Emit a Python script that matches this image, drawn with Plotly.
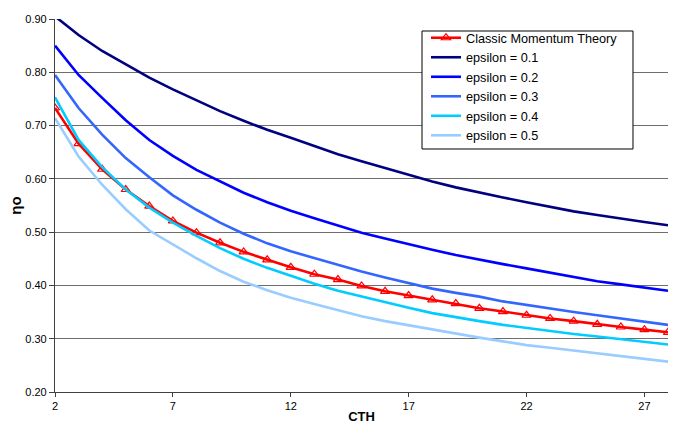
import plotly.graph_objects as go

cth = list(range(2, 29))

classic = [0.733, 0.666, 0.618, 0.580, 0.549, 0.521, 0.499, 0.480, 0.463, 0.448,
           0.434, 0.421, 0.411, 0.399, 0.389, 0.381, 0.373, 0.366, 0.357, 0.351,
           0.344, 0.338, 0.333, 0.327, 0.322, 0.317, 0.312]
eps01 = [0.905, 0.870, 0.840, 0.815, 0.790, 0.768, 0.747, 0.727, 0.709, 0.692,
         0.677, 0.662, 0.646, 0.633, 0.620, 0.607, 0.595, 0.584, 0.574, 0.565,
         0.556, 0.547, 0.539, 0.532, 0.525, 0.519, 0.513]
eps02 = [0.850, 0.795, 0.752, 0.710, 0.673, 0.643, 0.617, 0.595, 0.574, 0.556,
         0.540, 0.526, 0.512, 0.499, 0.488, 0.477, 0.467, 0.457, 0.448, 0.440,
         0.432, 0.424, 0.415, 0.408, 0.402, 0.396, 0.390]
eps03 = [0.795, 0.733, 0.683, 0.639, 0.603, 0.569, 0.542, 0.518, 0.497, 0.479,
         0.464, 0.451, 0.438, 0.426, 0.415, 0.404, 0.394, 0.386, 0.379, 0.370,
         0.363, 0.356, 0.350, 0.344, 0.338, 0.331, 0.326]
eps04 = [0.753, 0.673, 0.622, 0.580, 0.546, 0.518, 0.493, 0.470, 0.450, 0.433,
         0.418, 0.403, 0.390, 0.379, 0.368, 0.358, 0.348, 0.340, 0.333, 0.326,
         0.320, 0.314, 0.309, 0.304, 0.299, 0.294, 0.289]
eps05 = [0.714, 0.642, 0.589, 0.543, 0.503, 0.477, 0.451, 0.427, 0.407, 0.391,
         0.377, 0.365, 0.353, 0.342, 0.333, 0.325, 0.318, 0.310, 0.302, 0.295,
         0.288, 0.283, 0.278, 0.272, 0.267, 0.262, 0.257]

x_ticks = [2, 7, 12, 17, 22, 27]
y_ticks = [0.2, 0.3, 0.4, 0.5, 0.6, 0.7, 0.8, 0.9]

FONT = "Liberation Sans, Arial, sans-serif"

fig = go.Figure()
fig.add_trace(go.Scatter(x=cth, y=classic, name="Classic Momentum Theory",
                         mode="lines+markers",
                         line=dict(color="#FF0000", width=2.6),
                         marker=dict(symbol="triangle-up-open", size=8, color="#FF0000",
                                     line=dict(width=1.2))))
series = [("epsilon = 0.1", eps01, "#000080"),
          ("epsilon = 0.2", eps02, "#0000FF"),
          ("epsilon = 0.3", eps03, "#3366FF"),
          ("epsilon = 0.4", eps04, "#00CCFF"),
          ("epsilon = 0.5", eps05, "#99CCFF")]
for name, vals, col in series:
    fig.add_trace(go.Scatter(x=cth, y=vals, name=name, mode="lines",
                             line=dict(color=col, width=2.6)))

# legend frame drawn as a paper-referenced box behind the (transparent) legend
fig.add_shape(type="rect", xref="paper", yref="paper",
              x0=0.5987, x1=0.9429, y0=0.6515, y1=0.9678,
              line=dict(color="black", width=1), fillcolor="white", layer="above")

fig.update_layout(
    width=679, height=437,
    margin=dict(l=55, r=11, t=19, b=45),
    plot_bgcolor="white", paper_bgcolor="white",
    font=dict(family=FONT, size=11, color="black"),
    legend=dict(x=0.6052, y=0.9893, xanchor="left", yanchor="top",
                bgcolor="rgba(0,0,0,0)", borderwidth=0,
                font=dict(family=FONT, size=12.7, color="black"),
                tracegroupgap=0, itemwidth=30),
    xaxis=dict(range=[2, 28], tickvals=x_ticks, ticktext=[str(v) for v in x_ticks],
               showgrid=False, zeroline=False, automargin=False,
               showline=True, linecolor="#404040", linewidth=1.2,
               ticks="outside", ticklen=4, tickcolor="#404040",
               tickfont=dict(size=11),
               title=dict(text="<b>CTH</b>", font=dict(size=13), standoff=0)),
    yaxis=dict(range=[0.2, 0.9], tickvals=y_ticks,
               ticktext=[f"{v:.2f}" for v in y_ticks],
               showgrid=True, gridcolor="#6e6e6e", gridwidth=1.2,
               zeroline=False, automargin=False,
               showline=True, linecolor="#404040", linewidth=1.2,
               ticks="outside", ticklen=5, tickcolor="#404040",
               tickfont=dict(size=11),
               title=dict(text="<b>ηo</b>", font=dict(size=15), standoff=0)),
)

fig.write_html("out.html", config={"displayModeBar": False},
               post_script="document.body.style.margin='0';document.body.style.padding='0';")
